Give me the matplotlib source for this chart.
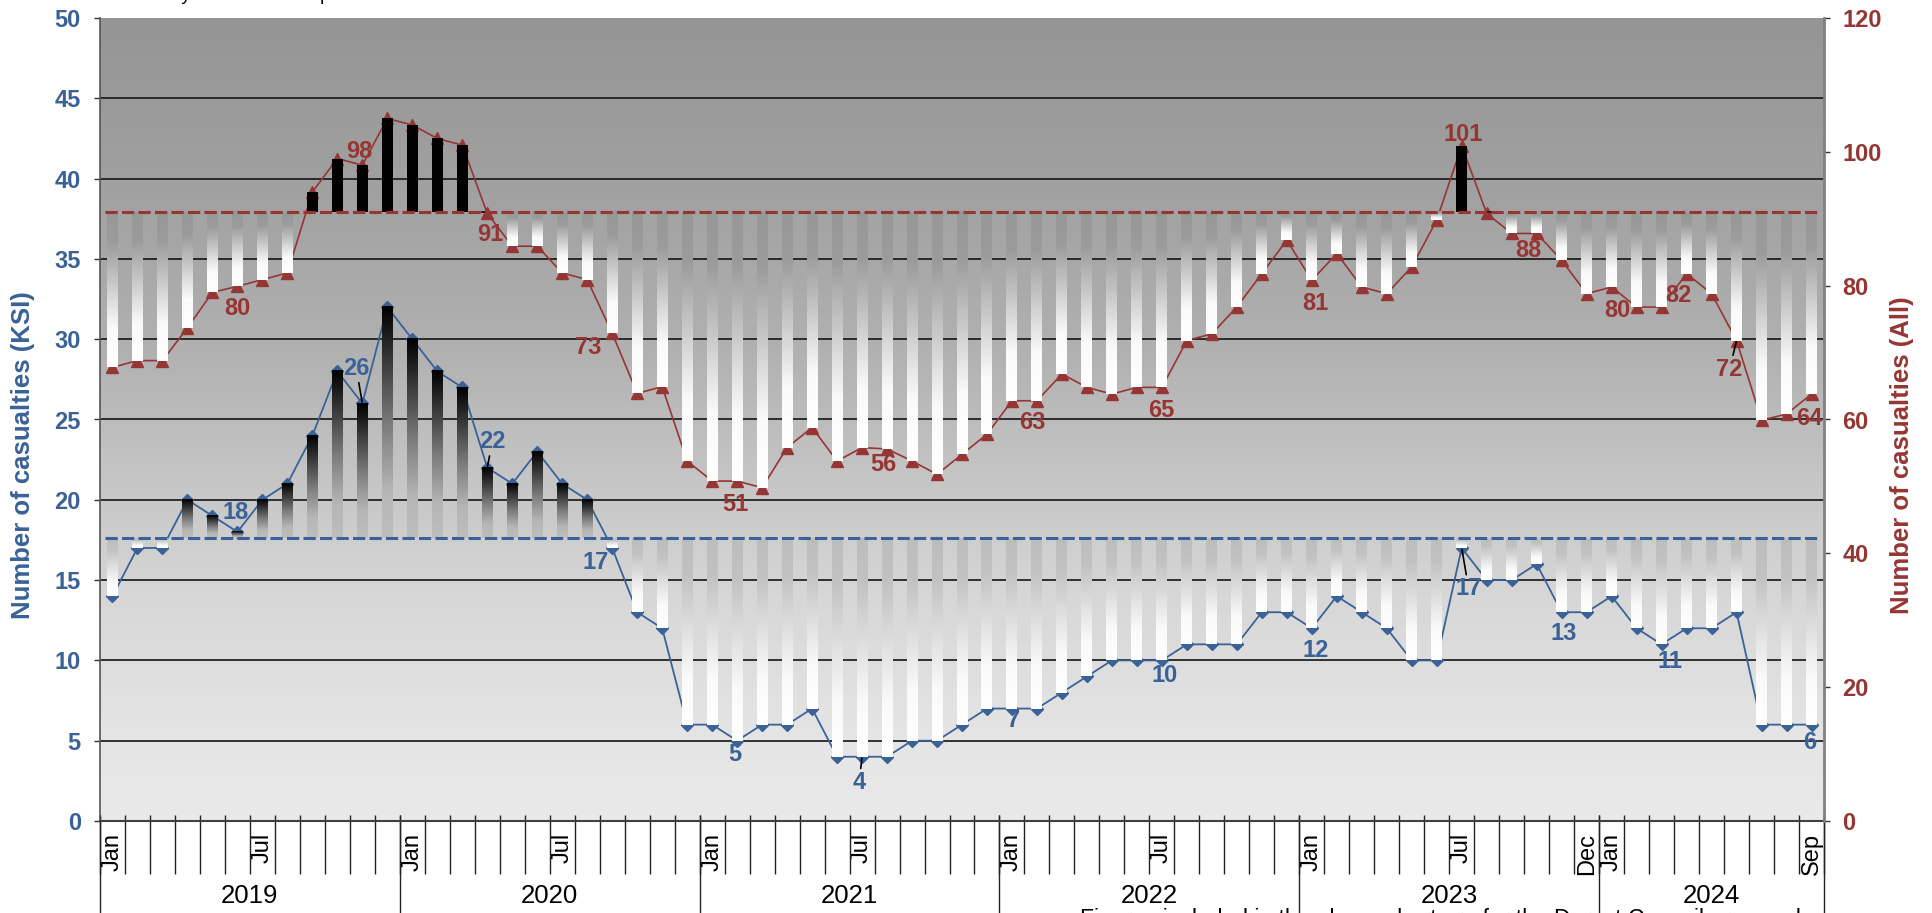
import matplotlib
matplotlib.use('Agg')
import matplotlib.pyplot as plt
import numpy as np
from matplotlib.colors import LinearSegmentedColormap

plt.rcParams['font.family'] = ['Liberation Sans', 'DejaVu Sans']

# Jan 2019 .. Sep 2024, one value per month
ksi = [14, 17, 17, 20, 19, 18, 20, 21, 24, 28, 26, 32,
       30, 28, 27, 22, 21, 23, 21, 20, 17, 13, 12, 6,
       6, 5, 6, 6, 7, 4, 4, 4, 5, 5, 6, 7,
       7, 7, 8, 9, 10, 10, 10, 11, 11, 11, 13, 13,
       12, 14, 13, 12, 10, 10, 17, 15, 15, 16, 13, 13,
       14, 12, 11, 12, 12, 13, 6, 6, 6]
all_cas = [67.8, 68.8, 68.8, 73.7, 79.0, 79.9, 80.9, 81.9, 94.0, 99.0, 98.0, 105.0,
           104.0, 102.0, 101.0, 90.8, 85.9, 85.9, 81.9, 80.9, 72.9, 63.9, 64.9, 53.8,
           50.8, 50.8, 49.8, 55.8, 58.8, 53.8, 55.8, 55.6, 53.8, 51.8, 54.8, 57.8,
           62.8, 62.8, 66.8, 64.8, 63.8, 64.8, 64.8, 71.8, 72.8, 76.8, 81.8, 86.8,
           80.8, 84.8, 79.8, 78.8, 82.8, 89.8, 100.9, 90.8, 87.8, 87.8, 83.8, 78.8,
           79.8, 76.8, 76.8, 81.8, 78.8, 71.8, 59.9, 60.8, 63.8]
ksi_avg = 17.6
all_avg = 91.0

years = ['2019', '2020', '2021', '2022', '2023', '2024']
year_months = [12, 12, 12, 12, 12, 9]
month_ticks = [(0, 'Jan'), (6, 'Jul'), (12, 'Jan'), (18, 'Jul'), (24, 'Jan'), (30, 'Jul'),
               (36, 'Jan'), (42, 'Jul'), (48, 'Jan'), (54, 'Jul'), (59, 'Dec'),
               (60, 'Jan'), (68, 'Sep')]

# which points get a data label
ksi_lab = [5, 10, 15, 20, 25, 30, 36, 42, 48, 54, 58, 62, 68]
all_lab = [5, 10, 15, 20, 25, 31, 37, 42, 48, 54, 57, 60, 63, 65, 68]

# label offsets in px (dx, dy, leader line)
ksi_off = {5: (-2, 19, 0), 10: (-6, 35, 1), 15: (5, 26, 1), 20: (-17, -15, 0),
           25: (-2, -14, 0), 30: (-3, -26, 1), 36: (2, -12, 0), 42: (3, -15, 0),
           48: (4, -22, 0), 54: (7, -41, 1), 58: (2, -21, 0), 62: (8, -17, 0),
           68: (-2, -18, 0)}
all_off = {5: (0, -22, 0), 10: (-3, 14, 0), 15: (3, -21, 0), 20: (-24, -14, 0),
           25: (-2, -23, 0), 31: (-4, -16, 0), 37: (-5, -22, 0), 42: (-1, -23, 0),
           48: (4, -23, 0), 54: (1, 11, 0), 57: (-8, -17, 0), 60: (6, -23, 0),
           63: (-8, -22, 0), 65: (-7, -29, 1), 68: (-2, -24, 0)}

blue = '#3A6296'
red = '#963634'
bw = 0.44
px = 0.72  # px -> pt at 100 dpi

bg_cmap = LinearSegmentedColormap.from_list('bg', [(0, '#959595'), (0.2, '#a0a0a0'), (0.4, '#b0b0b0'),
                                                  (0.6, '#c8c8c8'), (0.71, '#d6d6d6'), (0.9, '#e5e5e5'),
                                                  (1, '#e9e9e9')])
red_down = LinearSegmentedColormap.from_list('rd', [(0, '#979797'), (0.2, '#9c9c9c'), (0.75, '#fafafa'), (1, '#ffffff')])
blue_down = LinearSegmentedColormap.from_list('bd', [(0, '#bdbdbd'), (0.2, '#c2c2c2'), (0.75, '#fafafa'), (1, '#ffffff')])
blue_up = LinearSegmentedColormap.from_list('bu', [(0, '#000000'), (0.5, '#7a7a7a'), (0.8, '#b6b6b6'), (1, '#bebebe')])
grad = np.linspace(0, 1, 128).reshape(-1, 1)

fig = plt.figure(figsize=(19.32, 9.13), dpi=100)
ax = fig.add_axes([100 / 1932, 92 / 913, 1724 / 1932, 803 / 913])
ax2 = ax.twinx()

ax.imshow(grad, cmap=bg_cmap, extent=(0, 1, 0, 1), transform=ax.transAxes,
          aspect='auto', origin='upper', zorder=0)
for g in range(5, 50, 5):
    ax.axhline(g, color='#141414', lw=1.2, zorder=1)

x = np.arange(len(ksi))


def draw_bars(a, vals, avg, cm_up, cm_down, solid_up=None):
    for i, v in enumerate(vals):
        if v >= avg:
            if solid_up:
                a.bar(i, v - avg, bottom=avg, width=bw, color=solid_up, zorder=3)
            else:
                a.imshow(grad, cmap=cm_up, extent=(i - bw / 2, i + bw / 2, avg, v),
                         aspect='auto', origin='upper', zorder=3)
        else:
            a.imshow(grad, cmap=cm_down, extent=(i - bw / 2, i + bw / 2, v, avg),
                     aspect='auto', origin='upper', zorder=3)
            if avg - v < 0.5:
                a.plot([i - bw / 2, i + bw / 2], [avg, avg], color='black', lw=1.2, zorder=3.5)


# KSI, left axis
ax.plot(x, ksi, color=blue, lw=1.3, marker='D', ms=6, zorder=2)
draw_bars(ax, ksi, ksi_avg, blue_up, blue_down)
ax.plot([x[0] - 0.3, x[-1] + 0.3], [ksi_avg, ksi_avg], color=blue, lw=2.2,
        ls=(0, (4, 1.4)), zorder=4)

# All casualties, right axis
ax2.plot(x, all_cas, color=red, lw=1.2, marker='^', ms=8, zorder=2)
draw_bars(ax2, all_cas, all_avg, None, red_down, solid_up='black')
ax2.plot([x[0] - 0.3, x[-1] + 0.3], [all_avg, all_avg], color=red, lw=2.2,
         ls=(0, (4, 1.4)), zorder=4)


def add_labels(a, vals, idx, offs, col):
    for i in idx:
        dx, dy, lead = offs[i]
        kw = {}
        if lead:
            kw['arrowprops'] = dict(arrowstyle='-', color='black', lw=1.2, shrinkA=0, shrinkB=1)
        a.annotate(f'{vals[i]:.0f}', xy=(i, vals[i]), xytext=(dx * px, dy * px),
                   textcoords='offset points', ha='center', va='center', color=col,
                   fontsize=17, fontweight='bold', zorder=6, **kw)


add_labels(ax, ksi, ksi_lab, ksi_off, blue)
add_labels(ax2, all_cas, all_lab, all_off, red)

ax.set_xlim(-0.5, len(ksi) - 0.5)
ax.set_ylim(0, 50)
ax2.set_ylim(0, 120)
ax.set_yticks(range(0, 51, 5))
ax2.set_yticks(range(0, 121, 20))
ax.tick_params(axis='y', direction='out', length=4.3, width=1, color='#333333', pad=9.5,
               labelcolor=blue, labelsize=17)
ax2.tick_params(axis='y', direction='out', length=4.3, width=1, color='#333333', pad=9,
                labelcolor=red, labelsize=17)
for t in ax.get_yticklabels() + ax2.get_yticklabels():
    t.set_fontweight('bold')

ax.set_xticks([m[0] for m in month_ticks])
ax.set_xticklabels([m[1] for m in month_ticks], rotation=90, fontsize=17)
ax.tick_params(axis='x', length=0, pad=8.5)

for s in ['top', 'right']:
    ax.spines[s].set_visible(False)
for s in ['top', 'left', 'bottom']:
    ax2.spines[s].set_visible(False)
ax.spines['left'].set_color('#555555')
ax.spines['left'].set_linewidth(1.2)
ax.spines['bottom'].set_color('#404040')
ax.spines['bottom'].set_linewidth(1.5)
ax2.spines['right'].set_color('#808080')
ax2.spines['right'].set_linewidth(2)

# multi-level category axis
trans = ax.get_xaxis_transform()
ax.vlines(np.arange(len(ksi) + 1) - 0.5, -0.066, 0.0075, transform=trans,
          colors='#222222', lw=1, clip_on=False)
edges = np.cumsum([0] + year_months) - 0.5
ax.vlines(edges, -0.13, 0.0075, transform=trans, colors='#222222', lw=1, clip_on=False)
for k, yr in enumerate(years):
    ax.text((edges[k] + edges[k + 1]) / 2, -0.0935, yr, transform=trans,
            ha='center', va='center', fontsize=18.5)

ax.text(-0.0445, 0.456, 'Number of casualties (KSI)', transform=ax.transAxes, rotation=90,
        ha='center', va='center', color=blue, fontsize=18.5, fontweight='bold')
ax.text(1.0455, 0.456, 'Number of casualties (All)', transform=ax.transAxes, rotation=90,
        ha='center', va='center', color=red, fontsize=18.5, fontweight='bold')

fig.text(125 / 1932, 1.0, 'Monthly casualties compared to baseline', va='baseline', fontsize=13.6)
fig.text(1080 / 1932, 5 / 913, 'Figures included in the above chart are for the Dorset Council area and',
         va='top', fontsize=16.5)

fig.savefig('out.png', dpi=100)
